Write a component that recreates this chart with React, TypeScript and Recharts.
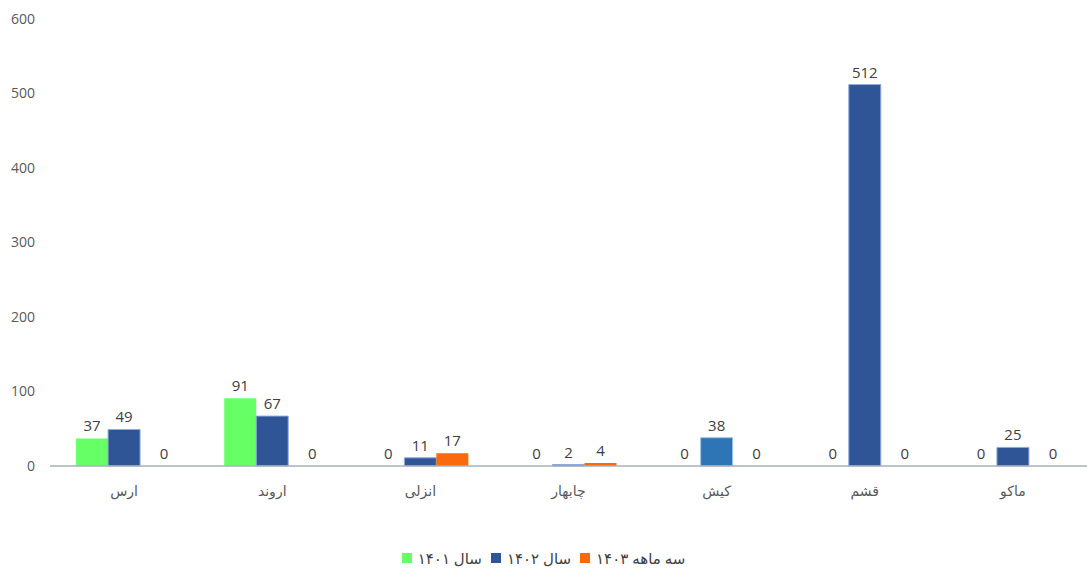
import React from 'react';
import { BarChart, Bar, XAxis, YAxis, LabelList, Cell } from 'recharts';

// Chart values
const CATEGORIES = ['ارس', 'اروند', 'انزلی', 'چابهار', 'کیش', 'قشم', 'ماکو'];
const YEAR_1401 = [37, 91, 0, 0, 0, 0, 0];
const YEAR_1402 = [49, 67, 11, 2, 38, 512, 25];
const Q_1403 = [0, 0, 17, 4, 0, 0, 0];
const Y_TICKS = [0, 100, 200, 300, 400, 500, 600];

const SERIES = [
  { key: 'y1401', name: 'سال ۱۴۰۱', color: '#66ff66', stroke: 'none' },
  { key: 'y1402', name: 'سال ۱۴۰۲', color: '#2f5597', stroke: '#8faadc' },
  { key: 'q1403', name: 'سه ماهه ۱۴۰۳', color: '#f86a0d', stroke: 'none' },
];

const FONT = '"Open Sans", "DejaVu Sans", sans-serif';

const data = CATEGORIES.map((name, i) => ({
  name,
  y1401: YEAR_1401[i],
  y1402: YEAR_1402[i],
  q1403: Q_1403[i],
}));

// value label drawn above each bar, zero values included
const makeLabel = (zeroShift: number) => (props: any) => {
  const { x, y, width, height, value } = props;
  if (value == null) return null;
  const top = Math.min(Number(y), Number(y) + Number(height || 0));
  const shift = Number(value) === 0 ? zeroShift : 0;
  return (
    <text
      x={Number(x) + Number(width) / 2 + shift}
      y={top - 7}
      textAnchor="middle"
      fontSize={15}
      fill="#404040"
      fontFamily={FONT}
    >
      {value}
    </text>
  );
};

export default function App() {
  return (
    <div style={{ position: 'absolute', left: 0, top: 0, width: 1087, height: 570, background: '#fff', fontFamily: FONT }}>
      <BarChart
        width={1087}
        height={570}
        data={data}
        margin={{ top: 19, right: 0, left: 0, bottom: 64 }}
        barCategoryGap="17.6%"
        barGap={0}
      >
        <XAxis
          dataKey="name"
          height={40}
          tickLine={false}
          tickSize={0}
          tickMargin={20}
          axisLine={{ stroke: '#a9b0bb', strokeWidth: 1.5 }}
          tick={{ fontSize: 14, fill: '#595959', fontFamily: FONT }}
        />
        <YAxis
          width={50}
          domain={[0, 600]}
          ticks={Y_TICKS}
          axisLine={false}
          tickLine={false}
          tickSize={0}
          tickMargin={15}
          tick={{ fontSize: 14, fill: '#595959', fontFamily: FONT }}
        />
        {SERIES.map((s) => (
          <Bar
            key={s.key}
            dataKey={s.key}
            name={s.name}
            fill={s.color}
            stroke={s.stroke}
            strokeWidth={1}
            minPointSize={0.01}
            isAnimationActive={false}
          >
            {s.key === 'y1402' &&
              CATEGORIES.map((c) => (
                <Cell key={c} fill={c === 'کیش' ? '#2e75b6' : s.color} stroke={c === 'کیش' ? '#9dc3e6' : s.stroke} />
              ))}
            <LabelList dataKey={s.key} content={makeLabel(s.key === 'q1403' ? 8 : 0)} />
          </Bar>
        ))}
      </BarChart>
      <div
        style={{
          position: 'absolute',
          top: 548,
          left: 0,
          width: 1087,
          display: 'flex',
          justifyContent: 'center',
          gap: 9,
          fontSize: 15,
          color: '#404040',
        }}
      >
        {SERIES.map((s) => (
          <div key={s.key} style={{ display: 'flex', alignItems: 'center', gap: 6 }}>
            <span style={{ display: 'inline-block', width: 10, height: 10, background: s.color }} />
            <span>{s.name}</span>
          </div>
        ))}
      </div>
    </div>
  );
}
